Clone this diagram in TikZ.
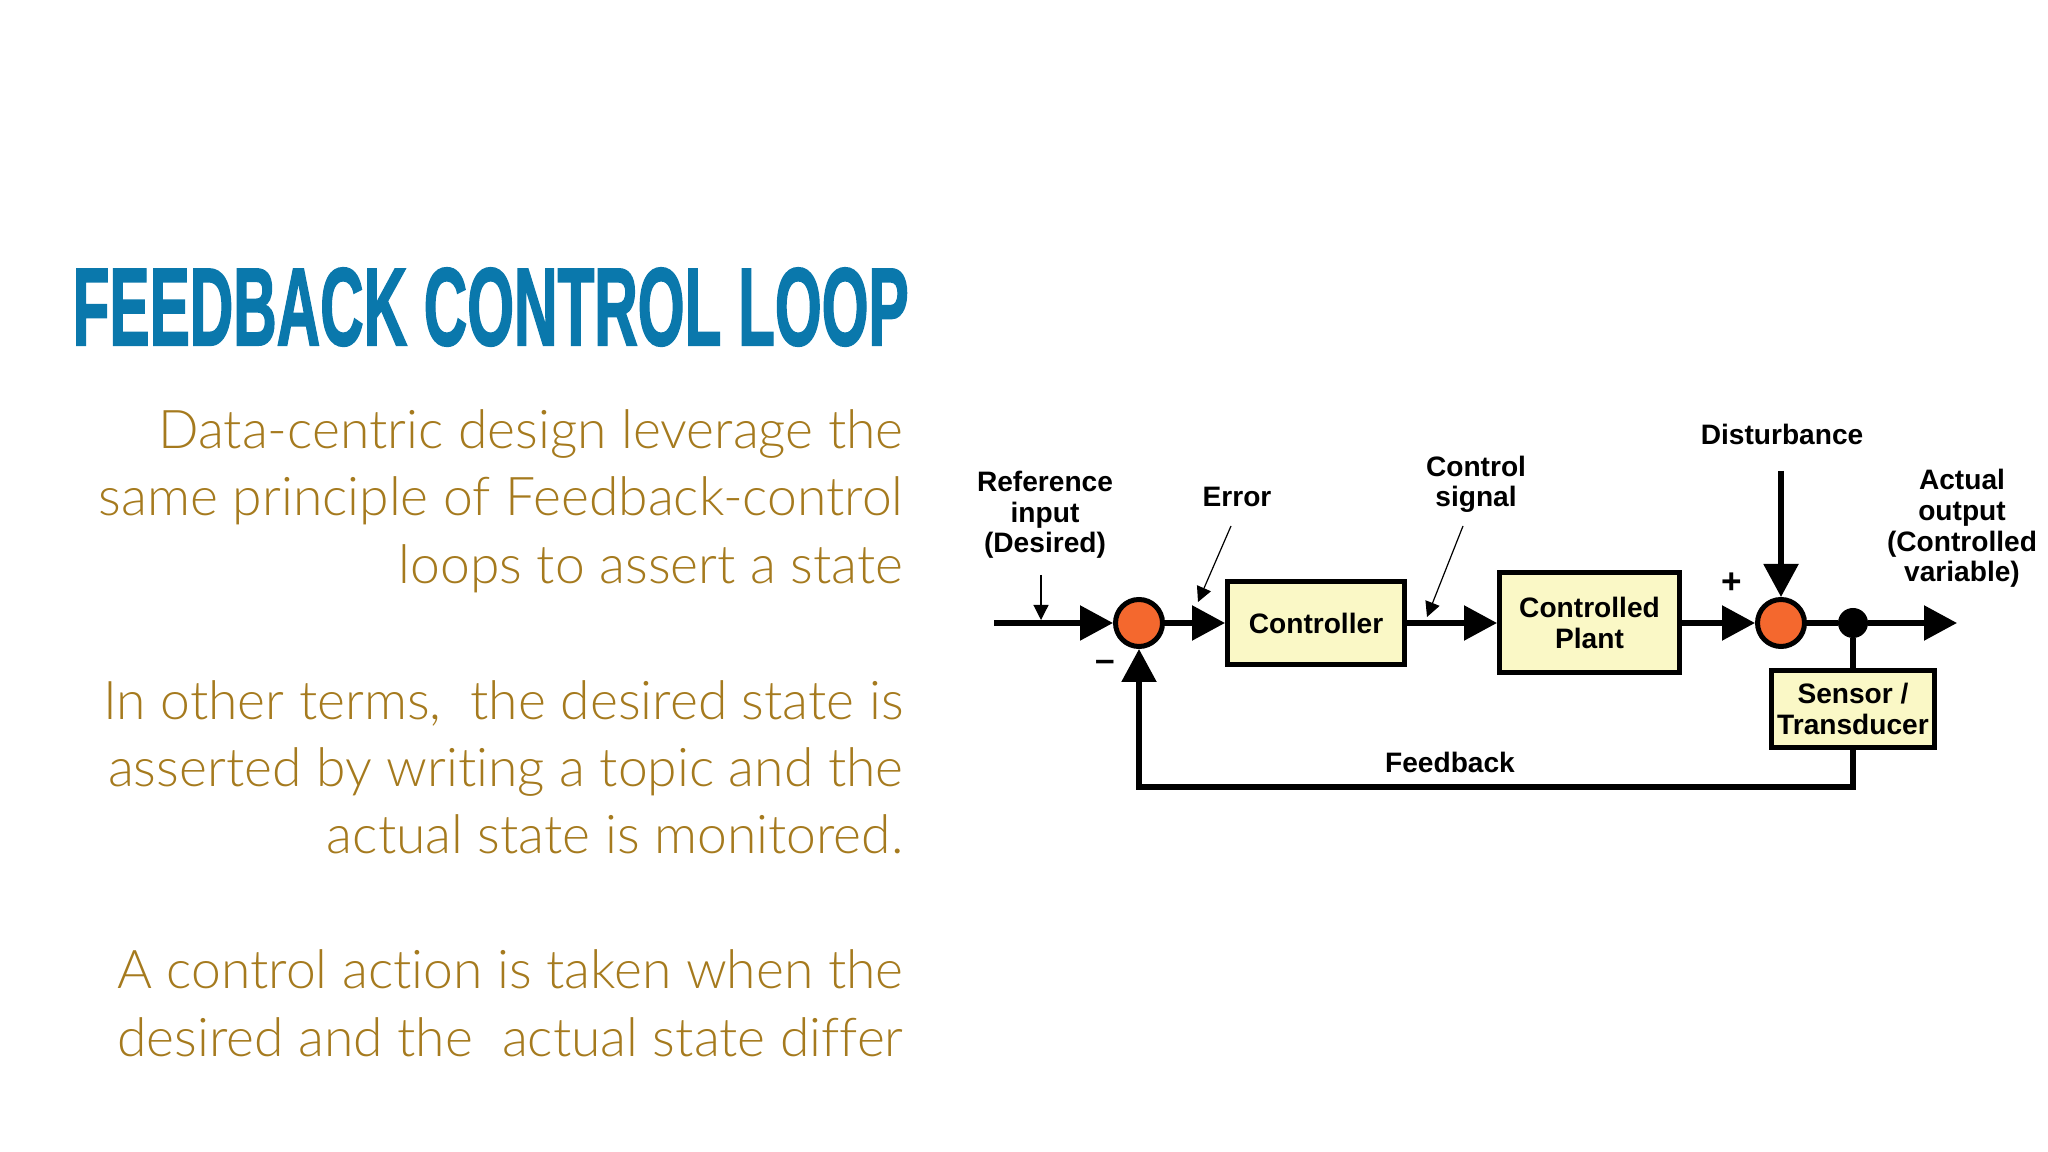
\documentclass[tikz,border=0pt]{standalone}
\usepackage{fontspec}
\setmainfont{Lato Light}[Ligatures=NoCommon]
\newfontfamily\diagfont{Liberation Sans}
\newfontfamily\titlefont[FakeBold=2]{Liberation Sans Bold}
\usepackage{graphicx}
\usetikzlibrary{arrows.meta,positioning}

\definecolor{titleblue}{RGB}{10,120,172}
\definecolor{bodygold}{RGB}{165,122,30}
\definecolor{boxfill}{RGB}{250,248,198}
\definecolor{sumfill}{RGB}{244,104,46}

\tikzset{
    bodyline/.style={anchor=base east, inner sep=0pt, text=bodygold, font=\fontsize{15.2}{18}\selectfont},
    block/.style={draw, line width=.5mm, fill=boxfill, inner sep=0pt, outer sep=.25mm, align=center, font=\diagfont\bfseries\fontsize{8}{8.8}\selectfont},
    sumnode/.style={circle, draw, line width=.5mm, fill=sumfill, minimum size=4.7mm, inner sep=0pt, outer sep=.25mm},
    tapnode/.style={circle, fill=black, minimum size=3mm, inner sep=0pt, outer sep=0pt},
    lbl/.style={anchor=base, inner sep=0pt, align=center, font=\diagfont\bfseries\fontsize{8}{8.8}\selectfont},
    sign/.style={inner sep=0pt, font=\diagfont\bfseries\fontsize{10}{10}\selectfont},
    wire/.style={line width=.55mm},
    flow/.style={line width=.55mm, -{Triangle[length=3.3mm,width=3.4mm]}},
    pointer/.style={line width=.12mm, -{Triangle[length=1.5mm,width=1.5mm]}}
}

\begin{document}
\begin{tikzpicture}[x=0.1mm,y=-0.1mm]
            \useasboundingbox (0,0) rectangle (2048,1152);

            % left side
            \node (title) [anchor=base west, inner sep=0pt, text=titleblue] at (72,345) {\resizebox{83.6mm}{7.7mm}{\titlefont FEEDBACK CONTROL LOOP}};

            \node (p1a) [bodyline] at (904,449) {Data-centric design leverage the};
            \node (p1b) [bodyline] at (904,516) {same principle of Feedback-control};
            \node (p1c) [bodyline] at (904,584) {loops to assert a state};
            \node (p2a) [bodyline] at (904,720) {In other terms,~ the desired state is};
            \node (p2b) [bodyline] at (904,787) {asserted by writing a topic and the};
            \node (p2c) [bodyline] at (904,854) {actual state is monitored.};
            \node (p3a) [bodyline] at (904,989) {A control action is taken when the};
            \node (p3b) [bodyline] at (904,1056) {desired and the~ actual state differ};

            % loop
            \node (sum1) [sumnode] at (1139,623) {};
            \node (ctrl) [block, minimum width=17.7mm, minimum height=8.3mm, right=6mm of sum1] {Controller};
            \node (plant) [block, minimum width=18mm, minimum height=10mm, right=9mm of ctrl] {Controlled\\Plant};
            \node (sum2) [sumnode, right=7.3mm of plant] {};
            \node (tap) [tapnode, right=3.1mm of sum2] {};
            \node (sensor) [block, minimum width=16.3mm, minimum height=7.7mm, below=3mm of tap] {Sensor /\\Transducer};

            \coordinate[left=11.9mm of sum1] (refin);
            \coordinate[right=8.9mm of tap] (actout);
            \coordinate[above=12.6mm of sum2] (dist);
            \coordinate[below=13.8mm of sum1] (fb);

            \draw[flow] (refin) -- (sum1);
            \draw[flow] (sum1) -- (ctrl);
            \draw[flow] (ctrl) -- (plant);
            \draw[flow] (plant) -- (sum2);
            \draw[flow] (dist) -- (sum2);
            \draw[wire] (sum2) -- (tap);
            \draw[flow] (tap) -- (actout);
            \draw[wire] (tap) -- (sensor);
            \draw[flow] (sensor) |- (fb) -- (sum1);

            % labels
            \node (reflbl) [lbl] at (1045,553) {Reference\\input\\(Desired)};
            \node (errlbl) [lbl] at (1237,507) {Error};
            \node (siglbl) [lbl] at (1476,507) {Control\\signal};
            \node (distlbl) [lbl] at (1782,445) {Disturbance};
            \node (outlbl) [lbl] at (1962,582) {Actual\\output\\(Controlled\\variable)};
            \node (fblbl) [lbl] at (1450,773) {Feedback};
            \node (minus) [sign] at (1105,666) {–};
            \node (plus) [sign] at (1732,583) {+};

            \coordinate (refA) at (1041,575);
            \coordinate (refB) at (1041,620);
            \coordinate (errA) at (1231,526);
            \coordinate (errB) at (1198,602);
            \coordinate (sigA) at (1463,526);
            \coordinate (sigB) at (1427,617);

            \draw[pointer] (refA) -- (refB);
            \draw[pointer] (errA) -- (errB);
            \draw[pointer] (sigA) -- (sigB);
\end{tikzpicture}
\end{document}
